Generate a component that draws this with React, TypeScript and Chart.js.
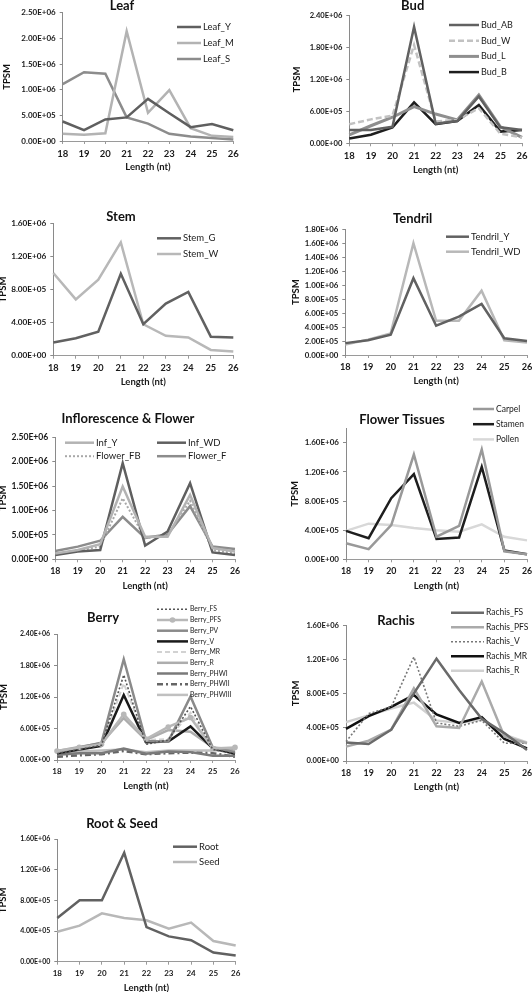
import React, { useEffect, useRef } from 'react';
import { Chart, registerables } from 'chart.js';
Chart.register(...registerables);

const lengthLabels = ['18', '19', '20', '21', '22', '23', '24', '25', '26'];

// Leaf
const leafY = [380000, 210000, 420000, 460000, 820000, 540000, 270000, 330000, 210000];
const leafM = [140000, 120000, 150000, 2140000, 550000, 990000, 250000, 100000, 80000];
const leafS = [1110000, 1340000, 1310000, 460000, 340000, 140000, 90000, 60000, 30000];
// Bud
const budAB = [250000, 250000, 310000, 2190000, 370000, 420000, 880000, 300000, 250000];
const budW = [360000, 450000, 520000, 1850000, 410000, 440000, 660000, 180000, 110000];
const budL = [160000, 330000, 490000, 690000, 550000, 440000, 910000, 310000, 110000];
const budB = [90000, 160000, 300000, 770000, 360000, 420000, 720000, 220000, 250000];
// Stem
const stemG = [160000, 210000, 290000, 990000, 380000, 630000, 770000, 230000, 220000];
const stemW = [1000000, 680000, 920000, 1370000, 380000, 240000, 220000, 70000, 50000];
// Tendril
const tendrilY = [170000, 210000, 290000, 1100000, 420000, 550000, 730000, 240000, 200000];
const tendrilWD = [150000, 220000, 310000, 1600000, 490000, 490000, 920000, 210000, 180000];
// Inflorescence & Flower
const infY = [120000, 190000, 310000, 1490000, 460000, 460000, 1320000, 230000, 160000];
const infWD = [90000, 160000, 190000, 1970000, 280000, 570000, 1560000, 140000, 90000];
const flowerFB = [110000, 180000, 260000, 1250000, 430000, 500000, 1200000, 190000, 120000];
const flowerF = [170000, 260000, 380000, 870000, 440000, 510000, 1090000, 260000, 210000];
// Flower tissues
const carpel = [220000, 140000, 470000, 1440000, 310000, 460000, 1510000, 110000, 70000];
const stamen = [390000, 290000, 840000, 1170000, 280000, 300000, 1270000, 120000, 70000];
const pollen = [390000, 490000, 470000, 430000, 400000, 380000, 480000, 310000, 260000];
// Berry
const berryFS = [120000, 200000, 280000, 1620000, 300000, 380000, 1020000, 200000, 120000];
const berryPFS = [170000, 240000, 300000, 870000, 400000, 630000, 810000, 220000, 240000];
const berryPV = [150000, 240000, 330000, 1920000, 360000, 350000, 1210000, 240000, 150000];
const berryV = [130000, 200000, 270000, 1240000, 340000, 350000, 640000, 220000, 120000];
const berryMR = [150000, 220000, 300000, 1460000, 380000, 400000, 900000, 200000, 140000];
const berryR = [170000, 250000, 320000, 800000, 380000, 570000, 540000, 240000, 200000];
const berryPHWI = [100000, 130000, 130000, 220000, 120000, 160000, 150000, 80000, 80000];
const berryPHWII = [60000, 90000, 110000, 170000, 110000, 130000, 140000, 130000, 60000];
const berryPHWIII = [150000, 160000, 180000, 200000, 150000, 180000, 180000, 180000, 200000];
// Rachis
const rachisFS = [220000, 200000, 370000, 800000, 1210000, 840000, 500000, 330000, 130000];
const rachisPFS = [170000, 240000, 370000, 860000, 410000, 390000, 940000, 290000, 210000];
const rachisV = [230000, 560000, 640000, 1230000, 450000, 410000, 480000, 210000, 210000];
const rachisMR = [380000, 530000, 640000, 780000, 550000, 450000, 520000, 260000, 150000];
const rachisR = [460000, 540000, 620000, 690000, 480000, 450000, 490000, 310000, 220000];
// Root & Seed
const rootVals = [570000, 800000, 800000, 1420000, 450000, 330000, 280000, 120000, 80000];
const seedVals = [390000, 470000, 630000, 570000, 540000, 430000, 510000, 270000, 210000];

// Y tick values per panel
const ticksLeaf = [0, 500000, 1000000, 1500000, 2000000, 2500000];
const ticksBud = [0, 600000, 1200000, 1800000, 2400000];
const ticksStem = [0, 400000, 800000, 1200000, 1600000];
const ticksTendril = [0, 200000, 400000, 600000, 800000, 1000000, 1200000, 1400000, 1600000, 1800000];
const ticksInflor = [0, 500000, 1000000, 1500000, 2000000, 2500000];
const ticksFlower = [0, 400000, 800000, 1200000, 1600000];
const ticksBerry = [0, 600000, 1200000, 1800000, 2400000];
const ticksRachis = [0, 400000, 800000, 1200000, 1600000];
const ticksRoot = [0, 400000, 800000, 1200000, 1600000];

type SeriesDef = { label: string; data: number[]; color: string; width?: number; dash?: number[]; marker?: boolean };
type PanelDef = {
  title: string;
  cell: [number, number, number, number];
  plot: [number, number, number, number];
  max: number;
  ticks: number[];
  series: SeriesDef[];
  titleAt: [number, number];
  legend: { x: number; y: number; row: number; cols: number; colGap: number; line: number; font: number };
  yFont: number;
  xFont: number;
  yTitleX: number;
};

const FONT = 'Lato, "DejaVu Sans", sans-serif';

const panels: PanelDef[] = [
  {
    title: 'Leaf', cell: [0, 0, 266, 175], plot: [62.7, 12.7, 233.3, 141], max: 2500000, ticks: ticksLeaf,
    series: [
      { label: 'Leaf_Y', data: leafY, color: '#5f5f5f' },
      { label: 'Leaf_M', data: leafM, color: '#b3b3b3' },
      { label: 'Leaf_S', data: leafS, color: '#8c8c8c' },
    ],
    titleAt: [122, 6], legend: { x: 177, y: 27, row: 16, cols: 1, colGap: 0, line: 24, font: 9.5 },
    yFont: 8, xFont: 9.5, yTitleX: 7,
  },
  {
    title: 'Bud', cell: [266, 0, 266, 178], plot: [349.3, 15.7, 522, 143.3], max: 2400000, ticks: ticksBud,
    series: [
      { label: 'Bud_AB', data: budAB, color: '#616161' },
      { label: 'Bud_W', data: budW, color: '#c2c2c2', dash: [6, 3] },
      { label: 'Bud_L', data: budL, color: '#8f8f8f', width: 3 },
      { label: 'Bud_B', data: budB, color: '#1e1e1e' },
    ],
    titleAt: [412.7, 6], legend: { x: 449, y: 25, row: 15.7, cols: 1, colGap: 0, line: 30, font: 9 },
    yFont: 7.6, xFont: 9.5, yTitleX: 297,
  },
  {
    title: 'Stem', cell: [0, 200, 266, 190], plot: [53.3, 223.3, 233.3, 355.7], max: 1600000, ticks: ticksStem,
    series: [
      { label: 'Stem_G', data: stemG, color: '#616161' },
      { label: 'Stem_W', data: stemW, color: '#b8b8b8' },
    ],
    titleAt: [121, 217], legend: { x: 157, y: 238.3, row: 15.7, cols: 1, colGap: 0, line: 24, font: 9.5 },
    yFont: 8.2, xFont: 9.2, yTitleX: 3,
  },
  {
    title: 'Tendril', cell: [266, 200, 266, 190], plot: [345.3, 229.3, 527, 355], max: 1800000, ticks: ticksTendril,
    series: [
      { label: 'Tendril_Y', data: tendrilY, color: '#616161' },
      { label: 'Tendril_WD', data: tendrilWD, color: '#b8b8b8' },
    ],
    titleAt: [412.7, 219], legend: { x: 446, y: 236.7, row: 15, cols: 1, colGap: 0, line: 23, font: 9.5 },
    yFont: 7.8, xFont: 9.2, yTitleX: 296,
  },
  {
    title: 'Inflorescence & Flower', cell: [0, 395, 266, 199], plot: [55.3, 437.3, 235, 559.3], max: 2500000, ticks: ticksInflor,
    series: [
      { label: 'Inf_Y', data: infY, color: '#b3b3b3' },
      { label: 'Inf_WD', data: infWD, color: '#5f5f5f' },
      { label: 'Flower_FB', data: flowerFB, color: '#a8a8a8', dash: [2, 2], width: 2 },
      { label: 'Flower_F', data: flowerF, color: '#8c8c8c' },
    ],
    titleAt: [128, 419], legend: { x: 65, y: 442.7, row: 13.5, cols: 2, colGap: 92, line: 29, font: 9.5 },
    yFont: 8.6, xFont: 8.8, yTitleX: 3,
  },
  {
    title: 'Flower Tissues', cell: [266, 395, 266, 199], plot: [346, 428.3, 527, 559.3], max: 1800000, ticks: ticksFlower,
    series: [
      { label: 'Carpel', data: carpel, color: '#999999' },
      { label: 'Stamen', data: stamen, color: '#1e1e1e' },
      { label: 'Pollen', data: pollen, color: '#d8d8d8' },
    ],
    titleAt: [402, 420], legend: { x: 473, y: 409, row: 15.2, cols: 1, colGap: 0, line: 21, font: 8.5 },
    yFont: 8, xFont: 8.8, yTitleX: 295,
  },
  {
    title: 'Berry', cell: [0, 598, 266, 196], plot: [57, 634, 235, 760], max: 2400000, ticks: ticksBerry,
    series: [
      { label: 'Berry_FS', data: berryFS, color: '#555555', dash: [2, 2], width: 1.6 },
      { label: 'Berry_PFS', data: berryPFS, color: '#b8b8b8', marker: true },
      { label: 'Berry_PV', data: berryPV, color: '#8a8a8a' },
      { label: 'Berry_V', data: berryV, color: '#1a1a1a' },
      { label: 'Berry_MR', data: berryMR, color: '#d2d2d2', dash: [5, 3], width: 2 },
      { label: 'Berry_R', data: berryR, color: '#adadad' },
      { label: 'Berry_PHWI', data: berryPHWI, color: '#7a7a7a' },
      { label: 'Berry_PHWII', data: berryPHWII, color: '#666666', dash: [6, 3, 2, 3] },
      { label: 'Berry_PHWIII', data: berryPHWIII, color: '#c0c0c0' },
    ],
    titleAt: [103, 618], legend: { x: 157, y: 609.3, row: 10.7, cols: 1, colGap: 0, line: 31, font: 6.8 },
    yFont: 7, xFont: 8, yTitleX: 4,
  },
  {
    title: 'Rachis', cell: [266, 598, 266, 196], plot: [346, 625.7, 527, 761], max: 1600000, ticks: ticksRachis,
    series: [
      { label: 'Rachis_FS', data: rachisFS, color: '#6a6a6a' },
      { label: 'Rachis_PFS', data: rachisPFS, color: '#aaaaaa' },
      { label: 'Rachis_V', data: rachisV, color: '#777777', dash: [2, 2], width: 1.6 },
      { label: 'Rachis_MR', data: rachisMR, color: '#111111' },
      { label: 'Rachis_R', data: rachisR, color: '#d0d0d0' },
    ],
    titleAt: [396, 620.7], legend: { x: 451, y: 612.7, row: 14.5, cols: 1, colGap: 0, line: 33, font: 8.5 },
    yFont: 7.6, xFont: 8.8, yTitleX: 296,
  },
  {
    title: 'Root & Seed', cell: [0, 805, 266, 187], plot: [57.3, 839, 235.7, 961.7], max: 1600000, ticks: ticksRoot,
    series: [
      { label: 'Root', data: rootVals, color: '#616161' },
      { label: 'Seed', data: seedVals, color: '#b8b8b8' },
    ],
    titleAt: [122, 824.3], legend: { x: 173, y: 846.7, row: 15.3, cols: 1, colGap: 0, line: 24, font: 9.5 },
    yFont: 7, xFont: 8, yTitleX: 3,
  },
];

function fmtExp(v: number): string {
  const s = v.toExponential(2);
  const m = s.match(/^(-?[\d.]+)e([+-])(\d+)$/);
  if (!m) return s;
  return `${m[1]}E${m[2]}${m[3].padStart(2, '0')}`;
}

const X_AXIS_H = 32;

function Panel({ p }: { p: PanelDef }) {
  const ref = useRef<HTMLCanvasElement | null>(null);
  useEffect(() => {
    const canvas = ref.current;
    if (!canvas) return;
    const [cx, cy, cw, ch] = p.cell;
    const [pl, pt, pr, pb] = p.plot;
    const decor = {
      id: 'decor' + p.title.replace(/\W/g, ''),
      afterDraw(chart: any) {
        const ctx = chart.ctx as CanvasRenderingContext2D;
        ctx.save();
        ctx.fillStyle = '#111';
        ctx.font = `bold 13px ${FONT}`;
        ctx.textAlign = 'center';
        ctx.textBaseline = 'middle';
        ctx.fillText(p.title, p.titleAt[0] - cx, p.titleAt[1] - cy);
        const lg = p.legend;
        ctx.font = `${lg.font}px ${FONT}`;
        ctx.textAlign = 'left';
        p.series.forEach((s, i) => {
          const col = i % lg.cols;
          const row = Math.floor(i / lg.cols);
          const lx = lg.x - cx + col * lg.colGap;
          const ly = lg.y - cy + row * lg.row;
          ctx.strokeStyle = s.color;
          ctx.lineWidth = s.width ?? 2.5;
          ctx.setLineDash(s.dash ?? []);
          ctx.beginPath();
          ctx.moveTo(lx, ly);
          ctx.lineTo(lx + lg.line, ly);
          ctx.stroke();
          ctx.setLineDash([]);
          if (s.marker) {
            ctx.fillStyle = s.color;
            ctx.beginPath();
            ctx.arc(lx + lg.line / 2, ly, 2.8, 0, Math.PI * 2);
            ctx.fill();
          }
          ctx.fillStyle = '#1a1a1a';
          ctx.fillText(s.label, lx + lg.line + 2, ly);
        });
        ctx.restore();
      },
    };
    const chart = new Chart(canvas, {
      type: 'line',
      data: {
        labels: lengthLabels,
        datasets: p.series.map((s) => ({
          label: s.label,
          data: s.data,
          borderColor: s.color,
          backgroundColor: s.color,
          borderWidth: s.width ?? 2.5,
          borderDash: s.dash ?? [],
          pointRadius: s.marker ? 2.8 : 0,
          pointBackgroundColor: s.color,
          pointBorderWidth: 0,
          tension: 0,
          fill: false,
        })),
      },
      options: {
        responsive: false,
        maintainAspectRatio: false,
        animation: false,
        events: [],
        layout: {
          padding: { left: 0, top: pt - cy, right: cx + cw - pr, bottom: cy + ch - pb - X_AXIS_H },
        },
        plugins: { legend: { display: false }, title: { display: false }, tooltip: { enabled: false } },
        scales: {
          x: {
            type: 'category',
            offset: false,
            ticks: {
              autoSkip: false, maxRotation: 0, padding: 4, color: '#1a1a1a',
              font: { family: FONT, weight: 'bold', size: p.xFont },
            },
            grid: { display: true, drawOnChartArea: false, drawTicks: true, tickLength: 3, color: '#9a9a9a', offset: false },
            border: { display: true, color: '#9a9a9a', width: 1 },
            title: {
              display: true, text: 'Length (nt)', color: '#1a1a1a',
              font: { family: FONT, weight: 'bold', size: 9.5, lineHeight: 1.2 }, padding: { top: 0, bottom: 0 },
            },
            afterFit: (s: any) => { s.height = X_AXIS_H; s.paddingLeft = 0; s.paddingRight = 0; },
          },
          y: {
            type: 'linear',
            min: 0,
            max: p.max,
            ticks: {
              padding: 4, color: '#1a1a1a',
              font: { family: FONT, weight: 'bold', size: p.yFont },
              callback: (v: any) => fmtExp(Number(v)),
            },
            afterBuildTicks: (s: any) => { s.ticks = p.ticks.map((v) => ({ value: v })); },
            grid: { display: true, drawOnChartArea: false, drawTicks: true, tickLength: 3, color: '#8a8a8a' },
            border: { display: true, color: '#8a8a8a', width: 1 },
            title: {
              display: true, text: 'TPSM', color: '#111',
              font: { family: FONT, weight: 'bold', size: 9.5, lineHeight: 1.2 },
              padding: { top: p.yTitleX - cx - 5.7, bottom: 0 },
            },
            afterFit: (s: any) => { s.width = pl - cx; s.paddingTop = 0; s.paddingBottom = 0; },
          },
        },
      } as any,
      plugins: [decor],
    });
    return () => chart.destroy();
  }, [p]);
  const [cx, cy, cw, ch] = p.cell;
  return (
    <div style={{ position: 'absolute', left: cx, top: cy, width: cw, height: ch }}>
      <canvas ref={ref} width={cw} height={ch} style={{ width: cw, height: ch, display: 'block' }} />
    </div>
  );
}

export default function App() {
  return (
    <div style={{ position: 'absolute', left: 0, top: 0, width: 532, height: 992, background: '#ffffff', overflow: 'hidden' }}>
      {panels.map((p) => (
        <Panel key={p.title} p={p} />
      ))}
    </div>
  );
}
